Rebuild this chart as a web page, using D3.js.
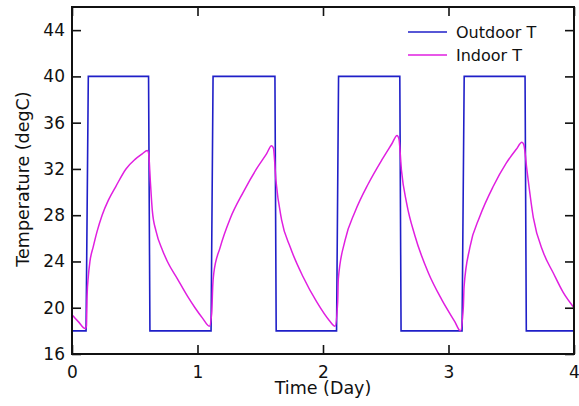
<!DOCTYPE html>
<html>
<head>
<meta charset="utf-8">
<script src="https://cdn.jsdelivr.net/npm/d3@7"></script>
<style>
  html, body { margin: 0; padding: 0; background: #fff; }
  svg { display: block; font-family: "DejaVu Sans", sans-serif; }
</style>
</head>
<body>
<svg id="chart" width="579" height="406"></svg>
<script>
// ---- Data ----
const seriesNames = ["Outdoor T", "Indoor T"];
const xTicks = [0, 1, 2, 3, 4];
const yTicks = [16, 20, 24, 28, 32, 36, 40, 44];

// Outdoor temperature [day, degC]
const outdoorT = [
  [0, 18], [0.112, 18], [0.13, 40], [0.61, 40], [0.621, 18],
  [1.108, 18], [1.124, 40], [1.617, 40], [1.627, 18],
  [2.108, 18], [2.124, 40], [2.612, 40], [2.622, 18],
  [3.108, 18], [3.125, 40], [3.61, 40], [3.62, 18],
  [4, 18]
];

// Indoor temperature [day, degC]
const indoorT = [
  [0, 19.4], [0.05, 18.8], [0.105, 18.2], [0.115, 18.4],
  [0.12, 21.0], [0.13, 22.7], [0.143, 24.0], [0.17, 25.3], [0.2, 26.6], [0.24, 28.0],
  [0.29, 29.3], [0.35, 30.5], [0.43, 32.0], [0.5, 32.8], [0.56, 33.3], [0.6, 33.6], [0.61, 33.4],
  [0.625, 30.8], [0.64, 28.4], [0.67, 26.6], [0.72, 25.0], [0.76, 24.0], [0.84, 22.5],
  [0.92, 21.0], [0.98, 20.0], [1.04, 19.1], [1.095, 18.4],
  [1.113, 19.5], [1.122, 22.0], [1.13, 23.0], [1.18, 25.2], [1.26, 27.7], [1.365, 30.0],
  [1.47, 32.0], [1.55, 33.3], [1.59, 34.0], [1.605, 33.8],
  [1.625, 31.0], [1.67, 27.6], [1.74, 25.2], [1.84, 22.7], [1.95, 20.5], [2.05, 18.9], [2.096, 18.4],
  [2.117, 20.5], [2.122, 22.5], [2.175, 25.8], [2.255, 28.3], [2.36, 30.7], [2.47, 32.8],
  [2.55, 34.2], [2.59, 34.9], [2.605, 34.6],
  [2.625, 31.9], [2.667, 29.0], [2.733, 26.2], [2.84, 23.0], [2.946, 20.7], [3.05, 18.8], [3.095, 18.0],
  [3.118, 20.0], [3.124, 21.8], [3.17, 25.2], [3.25, 27.9], [3.357, 30.5], [3.46, 32.5],
  [3.54, 33.7], [3.585, 34.3], [3.6, 34.1],
  [3.625, 31.9], [3.676, 27.8], [3.755, 24.8], [3.835, 23.0], [3.915, 21.3], [4.0, 20.0]
];

// ---- Layout ----
const W = 579, H = 406;
const m = { left: 72, top: 7, right: 5, bottom: 52 };
const iw = W - m.left - m.right, ih = H - m.top - m.bottom;

const svg = d3.select("#chart");
const g = svg.append("g").attr("transform", `translate(${m.left},${m.top})`);

const x = d3.scaleLinear().domain([0, 4]).range([0, iw]);
const y = d3.scaleLinear().domain([16, 46]).range([ih, 0]);

const colors = { "Outdoor T": "#1f1fc8", "Indoor T": "#e01fe0" };

// lines
const lineO = d3.line().x(d => x(d[0])).y(d => y(d[1]));
const lineI = d3.line().x(d => x(d[0])).y(d => y(d[1])).curve(d3.curveMonotoneX);
g.append("path").datum(outdoorT).attr("d", lineO)
  .attr("fill", "none").attr("stroke", colors["Outdoor T"]).attr("stroke-width", 1.6);
g.append("path").datum(indoorT).attr("d", lineI)
  .attr("fill", "none").attr("stroke", colors["Indoor T"]).attr("stroke-width", 1.5);

// axes (ticks inward)
const tl = 9;
const axB = g.append("g").attr("transform", `translate(0,${ih})`)
  .call(d3.axisBottom(x).tickValues(xTicks).tickFormat(d3.format("d"))
    .tickSizeInner(-tl).tickSizeOuter(0).tickPadding(tl + 3));
const axL = g.append("g")
  .call(d3.axisLeft(y).tickValues(yTicks).tickSizeInner(-tl).tickSizeOuter(0).tickPadding(7));
const axT = g.append("g")
  .call(d3.axisTop(x).tickValues(xTicks).tickSizeInner(-tl).tickSizeOuter(0).tickFormat(""));
const axR = g.append("g").attr("transform", `translate(${iw},0)`)
  .call(d3.axisRight(y).tickValues(yTicks).tickSizeInner(-tl).tickSizeOuter(0).tickFormat(""));

[axB, axL, axT, axR].forEach(a => {
  a.select(".domain").remove();
  a.selectAll(".tick line").attr("stroke", "#111").attr("stroke-width", 1.6);
});
axB.selectAll("text").attr("font-size", 17).attr("fill", "#111").attr("font-family", "DejaVu Sans");
axL.selectAll("text").attr("font-size", 17).attr("fill", "#111").attr("font-family", "DejaVu Sans");

// frame
g.append("rect").attr("x", 0).attr("y", 0).attr("width", iw).attr("height", ih)
  .attr("fill", "none").attr("stroke", "#111").attr("stroke-width", 2);

// axis titles
svg.append("text").attr("x", 323).attr("y", 394).attr("text-anchor", "middle")
  .attr("font-size", 17.5).attr("fill", "#111").text("Time (Day)");
svg.append("text").attr("transform", `translate(29,179) rotate(-90)`).attr("text-anchor", "middle")
  .attr("font-size", 17.5).attr("fill", "#111").text("Temperature (degC)");

// legend
const leg = svg.append("g");
seriesNames.forEach((s, i) => {
  const ly = 32 + i * 23;
  leg.append("line").attr("x1", 408).attr("x2", 447).attr("y1", ly).attr("y2", ly)
    .attr("stroke", colors[s]).attr("stroke-width", 1.5);
  leg.append("text").attr("x", 456).attr("y", ly + 6).attr("font-size", 16)
    .attr("fill", "#111").text(s);
});
</script>
</body>
</html>
